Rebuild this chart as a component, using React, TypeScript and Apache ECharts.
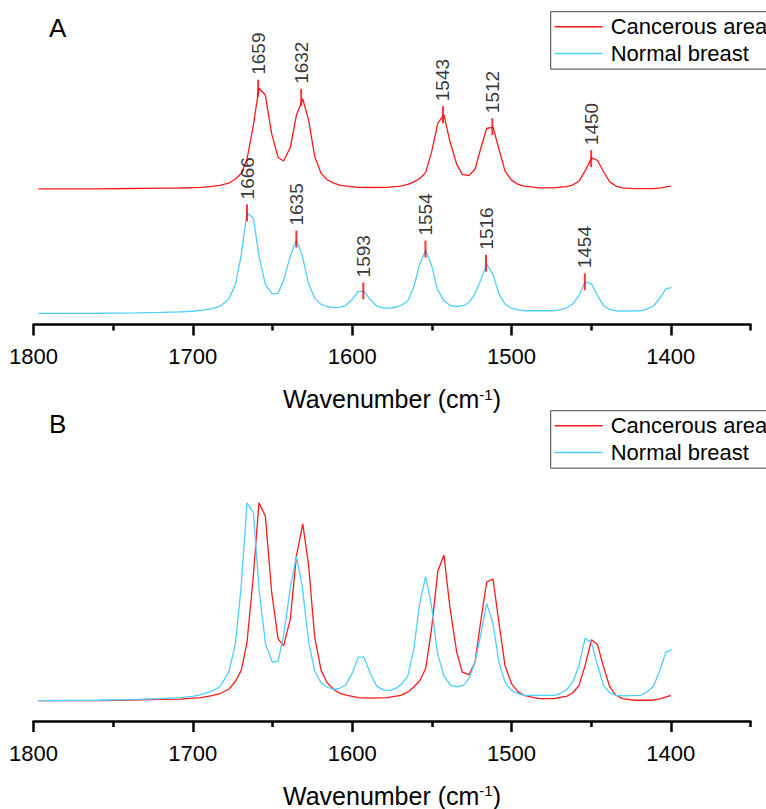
import React, { useEffect, useRef } from "react";
import * as echarts from "echarts";

const FONT = '"Liberation Sans", Arial, Helvetica, sans-serif';

// Wavenumber axis
const X_MIN = 1350;
const X_MAX = 1800;
const majorTicks = [1800, 1700, 1600, 1500, 1400];
const minorTicks = [1750, 1650, 1550, 1450, 1350];

// Cancerous area spectrum (normalized intensity)
const redWn = [1797, 1760, 1739, 1720, 1708, 1695, 1688, 1683, 1677, 1673.3, 1669.6, 1666, 1662.2, 1658.5, 1654.5, 1650.5, 1646.5, 1643, 1638.8, 1635, 1631, 1627.3, 1623.5, 1619.5, 1615.7, 1611.6, 1607.3, 1603.1, 1596, 1588, 1578, 1569.6, 1565, 1561.3, 1557.5, 1553.9, 1550.2, 1546.2, 1542.4, 1538.7, 1534.4, 1530.9, 1526.7, 1522.9, 1519.4, 1515.6, 1511.6, 1507.9, 1504.1, 1500, 1495.9, 1492.1, 1487.9, 1482.7, 1473.3, 1468, 1465.3, 1461.4, 1457.6, 1453.8, 1449.8, 1446, 1442.2, 1438.3, 1434.5, 1430.3, 1423, 1411.4, 1406.2, 1400];
const redVal = [0.0, 0.0, 0.003, 0.006, 0.008, 0.015, 0.025, 0.035, 0.06, 0.097, 0.153, 0.295, 0.614, 1.0, 0.933, 0.547, 0.312, 0.277, 0.413, 0.731, 0.894, 0.681, 0.32, 0.153, 0.09, 0.057, 0.035, 0.027, 0.015, 0.013, 0.015, 0.027, 0.044, 0.069, 0.102, 0.161, 0.362, 0.656, 0.736, 0.475, 0.245, 0.144, 0.131, 0.195, 0.396, 0.6, 0.614, 0.396, 0.178, 0.086, 0.044, 0.027, 0.019, 0.01, 0.01, 0.019, 0.022, 0.04, 0.077, 0.178, 0.308, 0.282, 0.17, 0.069, 0.027, 0.01, 0.002, 0.002, 0.01, 0.027];

// Normal breast spectrum (normalized intensity)
const cyanWn = [1797, 1760, 1735, 1720, 1708, 1700, 1695, 1689, 1683, 1677.3, 1673.3, 1669.8, 1666, 1662, 1658.4, 1654.4, 1650.2, 1646.5, 1643, 1638.8, 1635, 1631.4, 1627.3, 1623.5, 1619.5, 1615.7, 1612, 1608.4, 1604.2, 1600, 1596.2, 1592.7, 1588.7, 1584.5, 1580, 1575.9, 1572.2, 1568.6, 1565, 1561.3, 1557.7, 1553.9, 1550.2, 1546.6, 1542.4, 1538.2, 1534, 1530.2, 1526.7, 1522.9, 1519.4, 1515.6, 1511.6, 1507.9, 1504.1, 1500, 1495.9, 1492.1, 1473.3, 1469.1, 1465.3, 1461.4, 1457.6, 1453.8, 1449.8, 1446, 1442.2, 1438.3, 1434.5, 1430.3, 1418.8, 1415, 1410.8, 1406.9, 1403.1, 1399.5];
const cyanVal = [0.0, 0.002, 0.006, 0.01, 0.015, 0.022, 0.03, 0.045, 0.07, 0.147, 0.287, 0.564, 1.0, 0.95, 0.56, 0.287, 0.195, 0.2, 0.329, 0.572, 0.731, 0.58, 0.295, 0.15, 0.09, 0.069, 0.057, 0.06, 0.078, 0.138, 0.22, 0.22, 0.14, 0.072, 0.053, 0.052, 0.064, 0.086, 0.127, 0.262, 0.488, 0.627, 0.48, 0.245, 0.125, 0.077, 0.069, 0.077, 0.111, 0.195, 0.329, 0.492, 0.388, 0.195, 0.094, 0.052, 0.035, 0.027, 0.027, 0.037, 0.056, 0.097, 0.178, 0.315, 0.292, 0.178, 0.077, 0.04, 0.027, 0.024, 0.027, 0.044, 0.074, 0.153, 0.245, 0.258];

// Annotated peaks (panel A)
const redPeakWn = [1659, 1632, 1543, 1512, 1450];
const redPeakVal = [1.0, 0.91, 0.737, 0.618, 0.3];
const cyanPeakWn = [1666, 1635, 1593, 1554, 1516, 1454];
const cyanPeakVal = [1.0, 0.74, 0.224, 0.64, 0.5, 0.315];

// vertical offset of the cancerous spectrum in panel A
const RED_OFFSET_A = 1.24;

const RED = "#ff1a1a";
const CYAN = "#4dcfff";
const NAME_RED = "Cancerous area";
const NAME_CYAN = "Normal breast";

function makeXAxes(gridIndex: number) {
  return [
    {
      type: "value",
      gridIndex,
      position: "bottom",
      min: X_MIN,
      max: X_MAX,
      inverse: true,
      axisLine: { show: true, onZero: false, lineStyle: { color: "#000", width: 2.5 } },
      axisTick: { show: true, customValues: majorTicks, length: 11, lineStyle: { color: "#000", width: 2.5 } },
      axisLabel: {
        show: true,
        customValues: majorTicks,
        margin: 21,
        fontSize: 22,
        color: "#000",
        fontFamily: FONT,
        formatter: (v: number) => String(v),
      },
      splitLine: { show: false },
      name: "Wavenumber (cm{sup|-1})",
      nameLocation: "middle",
      nameGap: 62,
      nameTextStyle: {
        fontSize: 25,
        color: "#000",
        fontFamily: FONT,
        rich: { sup: { fontSize: 15, verticalAlign: "top", color: "#000", fontFamily: FONT } },
      },
    },
    {
      type: "value",
      gridIndex,
      position: "bottom",
      min: X_MIN,
      max: X_MAX,
      inverse: true,
      axisLine: { show: false, onZero: false },
      axisTick: { show: true, customValues: minorTicks, length: 6, lineStyle: { color: "#000", width: 2.5 } },
      axisLabel: { show: false },
      splitLine: { show: false },
    },
  ];
}

function makeLegend(top: number) {
  return {
    left: 550.7,
    top,
    orient: "vertical",
    data: [
      { name: NAME_RED, icon: "rect" },
      { name: NAME_CYAN, icon: "rect" },
    ],
    itemWidth: 48,
    itemHeight: 1.5,
    itemGap: 4.7,
    padding: [4, 14, 4.7, 4],
    borderColor: "#444",
    borderWidth: 1,
    selectedMode: false,
    textStyle: { fontSize: 22, color: "#000", fontFamily: FONT, padding: [0, 0, 0, 3] },
  };
}

function peakSeries(wn: number[], vals: number[], offset: number) {
  return {
    type: "scatter",
    xAxisIndex: 0,
    yAxisIndex: 0,
    symbol: "rect",
    symbolSize: [2, 17],
    itemStyle: { color: "#ff0000" },
    z: 5,
    silent: true,
    data: wn.map((w, i) => [w, vals[i] + offset]),
    label: {
      show: true,
      position: "top",
      rotate: 90,
      align: "left",
      verticalAlign: "middle",
      distance: 5,
      fontSize: 19,
      color: "#000",
      fontFamily: FONT,
      formatter: (p: any) => String(p.value[0]),
    },
  };
}

export default function App() {
  const ref = useRef<HTMLDivElement>(null);

  useEffect(() => {
    document.body.style.margin = "0";
    if (!ref.current) return;
    const chart = echarts.init(ref.current, null, { renderer: "svg" });

    const redA = redWn.map((w, i) => [w, redVal[i] + RED_OFFSET_A]);
    const cyanA = cyanWn.map((w, i) => [w, cyanVal[i]]);
    const redB = redWn.map((w, i) => [w, redVal[i]]);
    const cyanB = cyanWn.map((w, i) => [w, cyanVal[i]]);

    const lineCommon = { type: "line", symbol: "none", showSymbol: false, smooth: false, silent: true };

    chart.setOption({
      animation: false,
      backgroundColor: "#fff",
      textStyle: { fontFamily: FONT },
      grid: [
        { left: 33.5, right: 15.5, top: 32, height: 292.5 },
        { left: 33.5, right: 15.5, top: 404, height: 318.5 },
      ],
      xAxis: [...makeXAxes(0), ...makeXAxes(1)],
      yAxis: [
        { type: "value", gridIndex: 0, min: -0.11, max: 2.8, show: false, splitLine: { show: false } },
        { type: "value", gridIndex: 1, min: -0.103, max: 1.5, show: false, splitLine: { show: false } },
      ],
      legend: [makeLegend(11.7), makeLegend(410.7)],
      graphic: [
        { type: "text", left: 49, top: 15, style: { text: "A", fontSize: 26, fill: "#000", fontFamily: FONT } },
        { type: "text", left: 49, top: 411, style: { text: "B", fontSize: 26, fill: "#000", fontFamily: FONT } },
      ],
      series: [
        { ...lineCommon, name: NAME_RED, xAxisIndex: 0, yAxisIndex: 0, data: redA, lineStyle: { color: RED, width: 1.3 }, itemStyle: { color: RED } },
        { ...lineCommon, name: NAME_CYAN, xAxisIndex: 0, yAxisIndex: 0, data: cyanA, lineStyle: { color: CYAN, width: 1.3 }, itemStyle: { color: CYAN } },
        peakSeries(redPeakWn, redPeakVal, RED_OFFSET_A),
        peakSeries(cyanPeakWn, cyanPeakVal, 0),
        { ...lineCommon, name: NAME_RED, xAxisIndex: 2, yAxisIndex: 1, data: redB, lineStyle: { color: RED, width: 1.3 }, itemStyle: { color: RED } },
        { ...lineCommon, name: NAME_CYAN, xAxisIndex: 2, yAxisIndex: 1, data: cyanB, lineStyle: { color: CYAN, width: 1.3 }, itemStyle: { color: CYAN } },
      ],
    });

    return () => chart.dispose();
  }, []);

  return <div ref={ref} style={{ width: 766, height: 809 }} />;
}
